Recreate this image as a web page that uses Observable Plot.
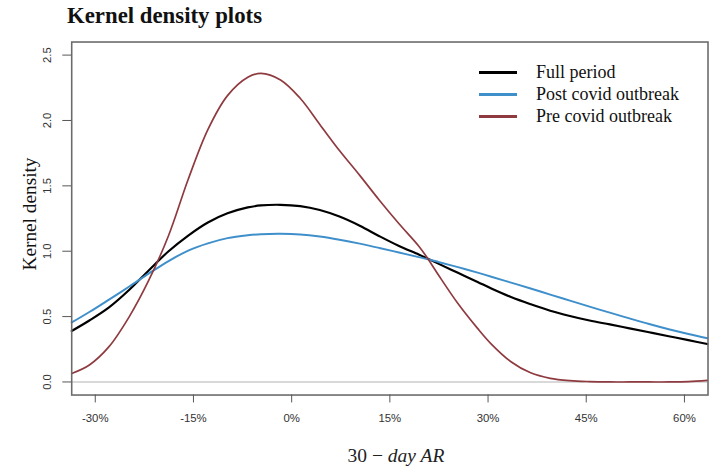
<!DOCTYPE html>
<html>
<head>
<meta charset="utf-8">
<script src="https://cdn.jsdelivr.net/npm/d3@7"></script>
<script src="https://cdn.jsdelivr.net/npm/@observablehq/plot@0.6"></script>
<style>
  html, body { margin: 0; padding: 0; background: #ffffff; overflow: hidden; }
  #wrap { position: relative; width: 710px; height: 474px; overflow: hidden; }
  #chart { position: absolute; left: 0; top: 0; }
  .title { position: absolute; left: 67px; top: 2.7px; font-family: "Liberation Serif", serif; font-weight: bold; font-size: 22.8px; line-height: 1.107; color: #111; white-space: nowrap; }
  .ytitle { position: absolute; left: 30px; top: 213.5px; transform: translate(-50%, -50%) rotate(-90deg); font-family: "Liberation Serif", serif; font-size: 19.3px; line-height: 1.107; color: #111; white-space: nowrap; }
  .xtitle { position: absolute; left: 396px; top: 445px; transform: translateX(-50%); font-family: "Liberation Serif", serif; font-size: 19.5px; line-height: 1.107; color: #222; white-space: nowrap; }
  .xtitle i { font-style: italic; }
  .legend { position: absolute; left: 479px; top: 61px; font-family: "Liberation Serif", serif; font-size: 18px; color: #111; }
  .legend .row { display: flex; align-items: center; height: 22px; line-height: 22px; white-space: nowrap; }
  .legend .sw { width: 38px; height: 3px; margin-right: 19px; }
</style>
</head>
<body>
<div id="wrap">
  <div id="chart"></div>
  <div class="title">Kernel density plots</div>
  <div class="ytitle">Kernel density</div>
  <div class="xtitle">30 − <i>day AR</i></div>
  <div class="legend" id="legend"></div>
</div>
<script>
// x positions (30-day AR, in %)
const xPct = [-33.6,-30.9,-27.9,-24.8,-21.8,-18.8,-15.8,-12.8,-9.8,-6.7,-4.7,-1.7,1.3,4.3,7.3,10.4,13.4,16.4,19.4,20.7,22.4,25.4,28.4,30.5,33.5,36.5,39.5,42.5,45.5,48.6,51.6,54.6,57.6,60.6,63.5];
// kernel density values
const fullPeriod = [0.39,0.47,0.57,0.705,0.855,1.0,1.12,1.22,1.29,1.335,1.35,1.355,1.345,1.315,1.265,1.195,1.115,1.04,0.975,0.945,0.905,0.835,0.765,0.715,0.65,0.595,0.545,0.505,0.47,0.44,0.41,0.38,0.35,0.32,0.29];
const postCovid  = [0.455,0.535,0.63,0.73,0.83,0.925,1.005,1.06,1.10,1.122,1.13,1.133,1.128,1.112,1.088,1.058,1.025,0.99,0.955,0.94,0.918,0.878,0.836,0.805,0.76,0.715,0.668,0.622,0.576,0.53,0.486,0.443,0.403,0.367,0.335];
const preCovid   = [0.065,0.13,0.27,0.50,0.78,1.12,1.55,1.93,2.19,2.33,2.36,2.31,2.17,1.97,1.77,1.58,1.39,1.21,1.04,0.95,0.82,0.60,0.41,0.29,0.155,0.07,0.028,0.01,0.003,0,0,0,0,0.003,0.012];

const seriesNames  = ["Full period", "Post covid outbreak", "Pre covid outbreak"];
const seriesColors = ["#000000", "#3f8fcb", "#8e3a3f"];
const seriesWidths = [2.2, 2.0, 1.7];
const xTicks = [-30, -15, 0, 15, 30, 45, 60];
const yTicks = [0, 0.5, 1, 1.5, 2, 2.5];

const seriesValues = [fullPeriod, postCovid, preCovid];
const rows = [];
seriesValues.forEach((vals, i) => vals.forEach((v, j) => rows.push({series: seriesNames[i], x: xPct[j], y: v})));

const lineMarks = seriesNames.map((name, i) =>
  Plot.line(rows.filter(d => d.series === name), {
    x: "x", y: "y", stroke: "series", strokeWidth: seriesWidths[i], curve: "catmull-rom"
  })
);

const chart = Plot.plot({
  width: 718,
  height: 474,
  marginLeft: 72,
  marginRight: 2.5,
  marginTop: 42,
  marginBottom: 75,
  x: {domain: [-33.6, 63.6]},
  y: {domain: [-0.1, 2.6]},
  color: {domain: seriesNames, range: seriesColors},
  style: {fontFamily: "'Liberation Sans', Arial, sans-serif", fontSize: "11.5px", color: "#444", background: "transparent"},
  marks: [
    Plot.ruleY([0], {stroke: "#cdcdcd", strokeWidth: 1.5}),
    ...lineMarks,
    Plot.frame({stroke: "#6b6b6b", strokeWidth: 1.6}),
    Plot.axisX({ticks: xTicks, tickFormat: d => d + "%", tickSize: 8, tickPadding: 11, label: null, stroke: "#555", fill: "#333"}),
    Plot.axisY({ticks: yTicks, tickSize: 9, tickFormat: () => "", label: null, stroke: "#555"}),
    Plot.text(yTicks, {y: d => d, text: d => d.toFixed(1), frameAnchor: "left", dx: -24.5, rotate: -90, textAnchor: "middle", lineAnchor: "middle", fill: "#333"})
  ]
});
document.getElementById("chart").appendChild(chart);

const legend = document.getElementById("legend");
seriesNames.forEach((name, i) => {
  const row = document.createElement("div");
  row.className = "row";
  const sw = document.createElement("span");
  sw.className = "sw";
  sw.style.background = seriesColors[i];
  const label = document.createElement("span");
  label.textContent = name;
  row.appendChild(sw);
  row.appendChild(label);
  legend.appendChild(row);
});
</script>
</body>
</html>
